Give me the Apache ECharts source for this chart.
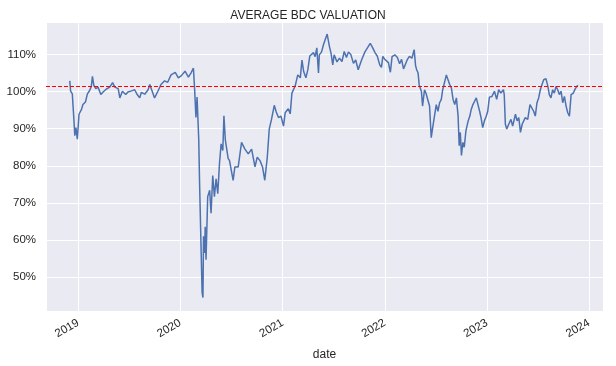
<!DOCTYPE html>
<html>
<head>
<meta charset="utf-8">
<script src="https://cdn.jsdelivr.net/npm/echarts@6/dist/echarts.min.js"></script>
<style>
html,body{margin:0;padding:0;background:#fff;}
#chart{width:616px;height:366px;}
</style>
</head>
<body>
<div id="chart"></div>
<script>
const title = 'AVERAGE BDC VALUATION';
const xName = 'date';
const refLevel = 101.5;

const dates = [
'2018-12-02','2018-12-05','2018-12-11','2018-12-17','2018-12-20','2018-12-24','2018-12-29',
'2019-01-04','2019-01-08','2019-01-13','2019-01-18','2019-01-27','2019-02-03','2019-02-11','2019-02-17','2019-02-21','2019-02-26',
'2019-03-05','2019-03-13','2019-03-23','2019-03-31','2019-04-12','2019-04-24','2019-05-04','2019-05-12','2019-05-24','2019-05-30',
'2019-06-08','2019-06-20','2019-06-28','2019-07-11','2019-07-22','2019-07-31','2019-08-09','2019-08-15','2019-08-27',
'2019-09-08','2019-09-14','2019-09-21','2019-10-01','2019-10-13','2019-10-24','2019-11-06','2019-11-17','2019-11-29',
'2019-12-14','2019-12-25',
'2020-01-05','2020-01-18','2020-01-30','2020-02-08','2020-02-17','2020-02-21','2020-02-26','2020-03-01','2020-03-07','2020-03-10',
'2020-03-16','2020-03-19','2020-03-22','2020-03-24','2020-03-28','2020-03-30','2020-04-02','2020-04-08','2020-04-15','2020-04-20',
'2020-04-26','2020-05-02','2020-05-08','2020-05-14','2020-05-20','2020-05-26','2020-06-01','2020-06-05','2020-06-10','2020-06-15',
'2020-06-20','2020-06-25','2020-07-02','2020-07-08','2020-07-14','2020-07-26','2020-08-07','2020-08-19','2020-08-31','2020-09-12',
'2020-09-24','2020-10-02','2020-10-12','2020-10-21','2020-10-29','2020-11-07','2020-11-14','2020-11-22','2020-12-02','2020-12-09',
'2020-12-17','2020-12-26',
'2021-01-04','2021-01-10','2021-01-21','2021-01-28','2021-02-03','2021-02-15','2021-02-24','2021-03-05','2021-03-11','2021-03-17',
'2021-03-25','2021-04-01','2021-04-08','2021-04-21','2021-04-27','2021-05-03','2021-05-09','2021-05-12','2021-05-20','2021-05-27',
'2021-06-01','2021-06-09','2021-06-17','2021-06-23','2021-06-29','2021-07-04','2021-07-14','2021-07-23','2021-08-01','2021-08-09',
'2021-08-17','2021-08-24','2021-09-02','2021-09-11','2021-09-19','2021-09-28','2021-10-10','2021-10-22','2021-11-01','2021-11-10',
'2021-11-18','2021-11-27','2021-12-05','2021-12-14','2021-12-20','2021-12-25','2021-12-31',
'2022-01-06','2022-01-14','2022-01-21','2022-01-27','2022-02-06','2022-02-15','2022-02-23','2022-03-02','2022-03-09','2022-03-15',
'2022-03-23','2022-03-30','2022-04-08','2022-04-16','2022-04-21','2022-04-25','2022-04-30','2022-05-04','2022-05-12','2022-05-16',
'2022-05-23','2022-05-28','2022-06-04','2022-06-10','2022-06-16','2022-06-22','2022-06-28','2022-07-04','2022-07-10','2022-07-16',
'2022-07-22','2022-07-27','2022-08-02','2022-08-09','2022-08-15','2022-08-21','2022-08-27','2022-09-02','2022-09-08','2022-09-14',
'2022-09-20','2022-09-24','2022-09-28','2022-10-02','2022-10-07','2022-10-12','2022-10-18','2022-10-26','2022-11-01','2022-11-06',
'2022-11-12','2022-11-18','2022-11-24','2022-11-30','2022-12-06','2022-12-11','2022-12-17','2022-12-23','2022-12-29',
'2023-01-04','2023-01-10','2023-01-19','2023-01-28','2023-02-05','2023-02-12','2023-02-20','2023-03-01','2023-03-04','2023-03-08',
'2023-03-13','2023-03-20','2023-03-28','2023-04-03','2023-04-13','2023-04-19','2023-04-25','2023-05-01','2023-05-07','2023-05-13',
'2023-05-18','2023-05-27','2023-06-04','2023-06-11','2023-06-17','2023-06-23','2023-06-29','2023-07-05','2023-07-11','2023-07-17',
'2023-07-23','2023-07-31','2023-08-07','2023-08-12','2023-08-18','2023-08-24','2023-08-30','2023-09-05','2023-09-11','2023-09-17',
'2023-09-23','2023-09-29','2023-10-05','2023-10-11','2023-10-17','2023-10-23','2023-10-29','2023-11-06','2023-11-13','2023-11-22'
];

const valuation = [
102.9,100.1,99.4,92.1,88.1,90.3,87.2,
93.9,94.5,95.2,96.5,97.2,99.4,100.3,101.4,104.1,101.7,
100.8,101.2,99.2,99.9,100.7,101.2,102.4,101.2,100.8,98.3,
100.1,99.2,99.9,100.2,100.5,99.2,98.3,99.8,99.3,
100.5,101.9,101.5,98.3,100.1,101.9,102.9,102.5,104.5,
105.2,103.7,
104.3,105.5,103.9,105.0,106.3,101.0,93.0,98.5,87.0,75.2,
55.6,45.9,44.5,61.0,56.5,63.6,54.7,71.7,73.4,67.2,
77.4,71.7,76.5,72.5,80.5,85.9,84.1,93.5,87.0,87.2,
82.0,81.4,78.5,76.1,79.7,79.7,86.3,84.5,83.2,84.5,
79.7,82.3,81.4,79.7,76.1,82.3,89.9,92.5,96.3,94.5,
93.0,93.4,
90.7,94.3,95.4,94.0,99.6,101.6,104.5,103.7,108.5,105.4,
103.7,105.9,109.6,110.5,109.4,111.8,105.0,109.9,110.7,112.7,
113.0,115.5,112.2,110.3,107.2,109.9,108.0,109.0,108.1,110.8,
109.2,110.7,109.9,107.6,108.5,105.9,108.5,110.7,111.9,113.0,
111.9,110.5,109.6,107.2,106.5,109.5,108.8,
109.2,107.8,105.2,109.4,109.9,109.2,107.5,108.7,106.1,105.9,
108.7,109.5,109.0,111.3,107.0,105.9,105.0,101.8,100.0,96.1,
100.5,99.6,100.0,96.1,87.6,90.7,90.3,96.5,94.7,97.0,
97.9,100.5,102.3,104.5,103.2,101.9,101.0,97.9,96.5,98.3,
93.4,85.4,89.0,82.8,86.3,85.0,89.4,92.1,93.4,95.2,
96.5,97.4,98.3,96.5,94.7,93.0,90.3,92.1,93.2,
94.7,98.5,98.7,100.1,97.9,100.5,99.6,100.5,99.2,91.2,
89.9,91.2,92.5,90.7,93.9,92.1,93.0,89.0,91.2,90.7,
93.0,92.5,96.5,96.1,94.7,93.4,97.0,98.3,100.5,101.9,
103.2,103.5,101.4,99.2,98.3,100.5,99.6,101.4,100.5,99.2,
100.1,97.0,98.7,96.1,94.3,93.4,99.2,99.6,100.8,101.7
];

const seriesData = dates.map((d, i) => [d, valuation[i]]);

const chart = echarts.init(document.getElementById('chart'), null, {renderer: 'canvas'});
const textColor = '#262626';
const fontFam = 'Liberation Sans, Arial, sans-serif';
chart.setOption({
  animation: false,
  backgroundColor: '#ffffff',
  title: {
    text: title,
    left: 'center',
    top: 5,
    textStyle: {fontFamily: fontFam, fontSize: 12, fontWeight: 'normal', color: textColor}
  },
  grid: {
    left: 46, right: 13, top: 22, bottom: 52,
    show: true, backgroundColor: '#eaeaf2', borderWidth: 0,
    containLabel: false
  },
  xAxis: {
    type: 'time',
    min: '2018-09-08',
    max: '2024-02-20',
    splitNumber: 6,
    name: xName,
    nameLocation: 'middle',
    nameGap: 38,
    nameTextStyle: {fontFamily: fontFam, fontSize: 12, color: textColor},
    axisLine: {show: false},
    axisTick: {show: false},
    splitLine: {show: true, lineStyle: {color: '#ffffff', width: 1}},
    axisLabel: {
      rotate: 30,
      margin: 11,
      fontFamily: fontFam,
      fontSize: 11.5,
      color: textColor,
      showMinLabel: false,
      showMaxLabel: false,
      formatter: '{yyyy}'
    }
  },
  yAxis: {
    type: 'value',
    min: 40.88,
    max: 118.75,
    splitNumber: 8,
    axisLine: {show: false},
    axisTick: {show: false},
    splitLine: {show: true, lineStyle: {color: '#ffffff', width: 1}},
    axisLabel: {
      margin: 10,
      fontFamily: fontFam,
      fontSize: 11.5,
      color: textColor,
      showMinLabel: false,
      showMaxLabel: false,
      formatter: function (v) { return Math.round(v) + '%'; }
    }
  },
  series: [{
    type: 'line',
    data: seriesData,
    showSymbol: false,
    symbol: 'none',
    lineStyle: {color: '#4c72b0', width: 1.5},
    markLine: {
      silent: true,
      symbol: ['none', 'none'],
      label: {show: false},
      lineStyle: {color: '#ff0000', type: [4, 2], width: 1},
      data: [{yAxis: refLevel}]
    }
  }]
});
</script>
</body>
</html>
